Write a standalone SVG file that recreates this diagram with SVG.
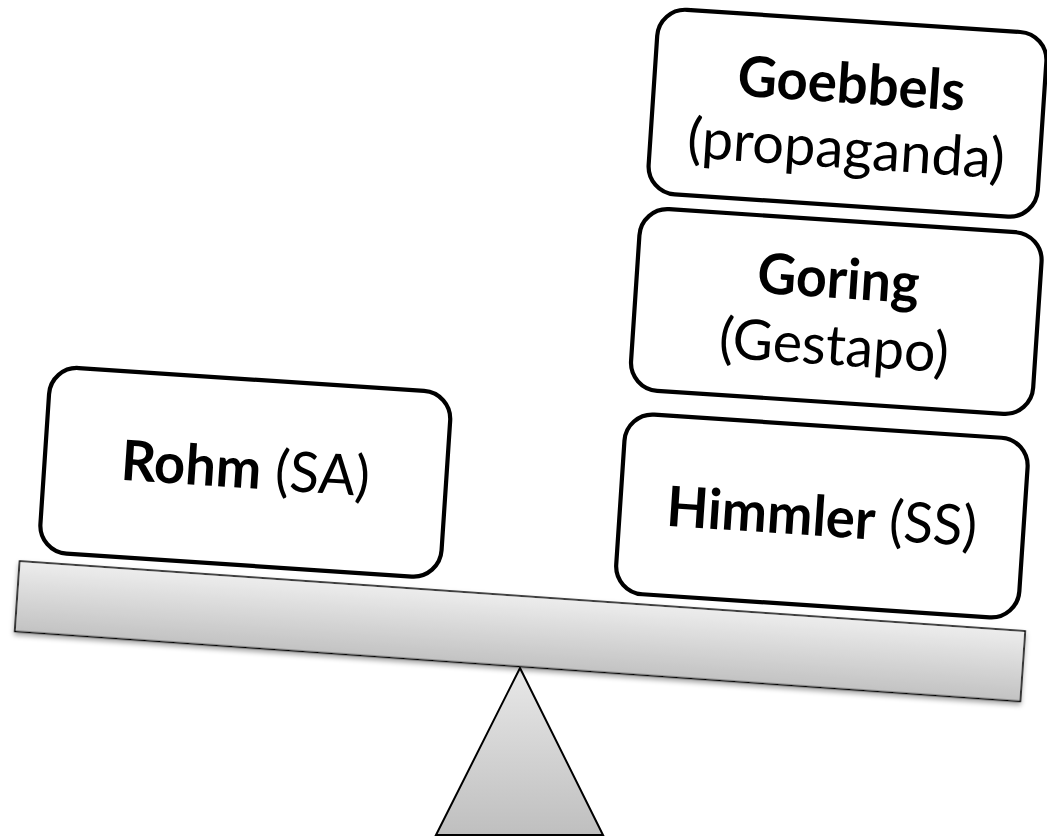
<svg xmlns="http://www.w3.org/2000/svg" width="1047" height="836" viewBox="0 0 1047 836">
<style>
.box{fill:#fff;stroke:#000;stroke-width:4.2}
.t{font-family:Lato,"Open Sans",sans-serif;font-size:56px;fill:#000;text-anchor:middle}
.b{font-weight:bold}
.r{font-weight:normal}
</style>
<defs>
<linearGradient id="gBeam" x1="0" y1="0" x2="0" y2="1">
<stop offset="0" stop-color="#ededed"/>
<stop offset="1" stop-color="#c2c2c2"/>
</linearGradient>
<linearGradient id="gTri" x1="0" y1="0" x2="0" y2="1">
<stop offset="0" stop-color="#e8e8e8"/>
<stop offset="1" stop-color="#bfbfbf"/>
</linearGradient>
<filter id="sh" x="-5%" y="-20%" width="110%" height="160%">
<feDropShadow dx="0" dy="3" stdDeviation="2.5" flood-color="#000" flood-opacity="0.35"/>
</filter>
</defs>
<g id="fulcrum">
<polygon points="520,668 603,835 436,835" fill="url(#gTri)" stroke="#000" stroke-width="2"/>
</g>
<g id="beam" transform="rotate(3.98 520 631)">
<rect x="16" y="596" width="1008" height="70.5" fill="url(#gBeam)" stroke="#000" stroke-width="1.5" filter="url(#sh)"/>
</g>
<g id="rohm" transform="rotate(3.8 245.3 472.3)">
<rect class="box" x="44.3" y="379.3" width="402" height="186" rx="28"/>
<text class="t" x="245.3" y="488" textLength="249" lengthAdjust="spacingAndGlyphs"><tspan class="b">Rohm</tspan><tspan class="r"> (SA)</tspan></text>
</g>
<g id="himmler" transform="rotate(3.8 821.9 516)">
<rect class="box" x="619.9" y="426" width="404" height="180" rx="28"/>
<text class="t" x="821.9" y="536" textLength="311" lengthAdjust="spacingAndGlyphs"><tspan class="b">Himmler</tspan><tspan class="r"> (SS)</tspan></text>
</g>
<g id="goring" transform="rotate(3.8 836.3 311.5)">
<rect class="box" x="634.8" y="220.5" width="403" height="182" rx="28"/>
<text class="t b" x="836.3" y="298" textLength="162" lengthAdjust="spacingAndGlyphs">Goring</text>
<text class="t r" x="836.3" y="365" textLength="230" lengthAdjust="spacingAndGlyphs">(Gestapo)</text>
</g>
<g id="goebbels" transform="rotate(3.8 847.5 113.2)">
<rect class="box" x="652.5" y="20.7" width="390" height="185" rx="28"/>
<text class="t b" x="849.5" y="103" textLength="228" lengthAdjust="spacingAndGlyphs">Goebbels</text>
<text class="t r" x="848.5" y="168" textLength="318" lengthAdjust="spacingAndGlyphs">(propaganda)</text>
</g>
<g id="connectors"/>
</svg>
